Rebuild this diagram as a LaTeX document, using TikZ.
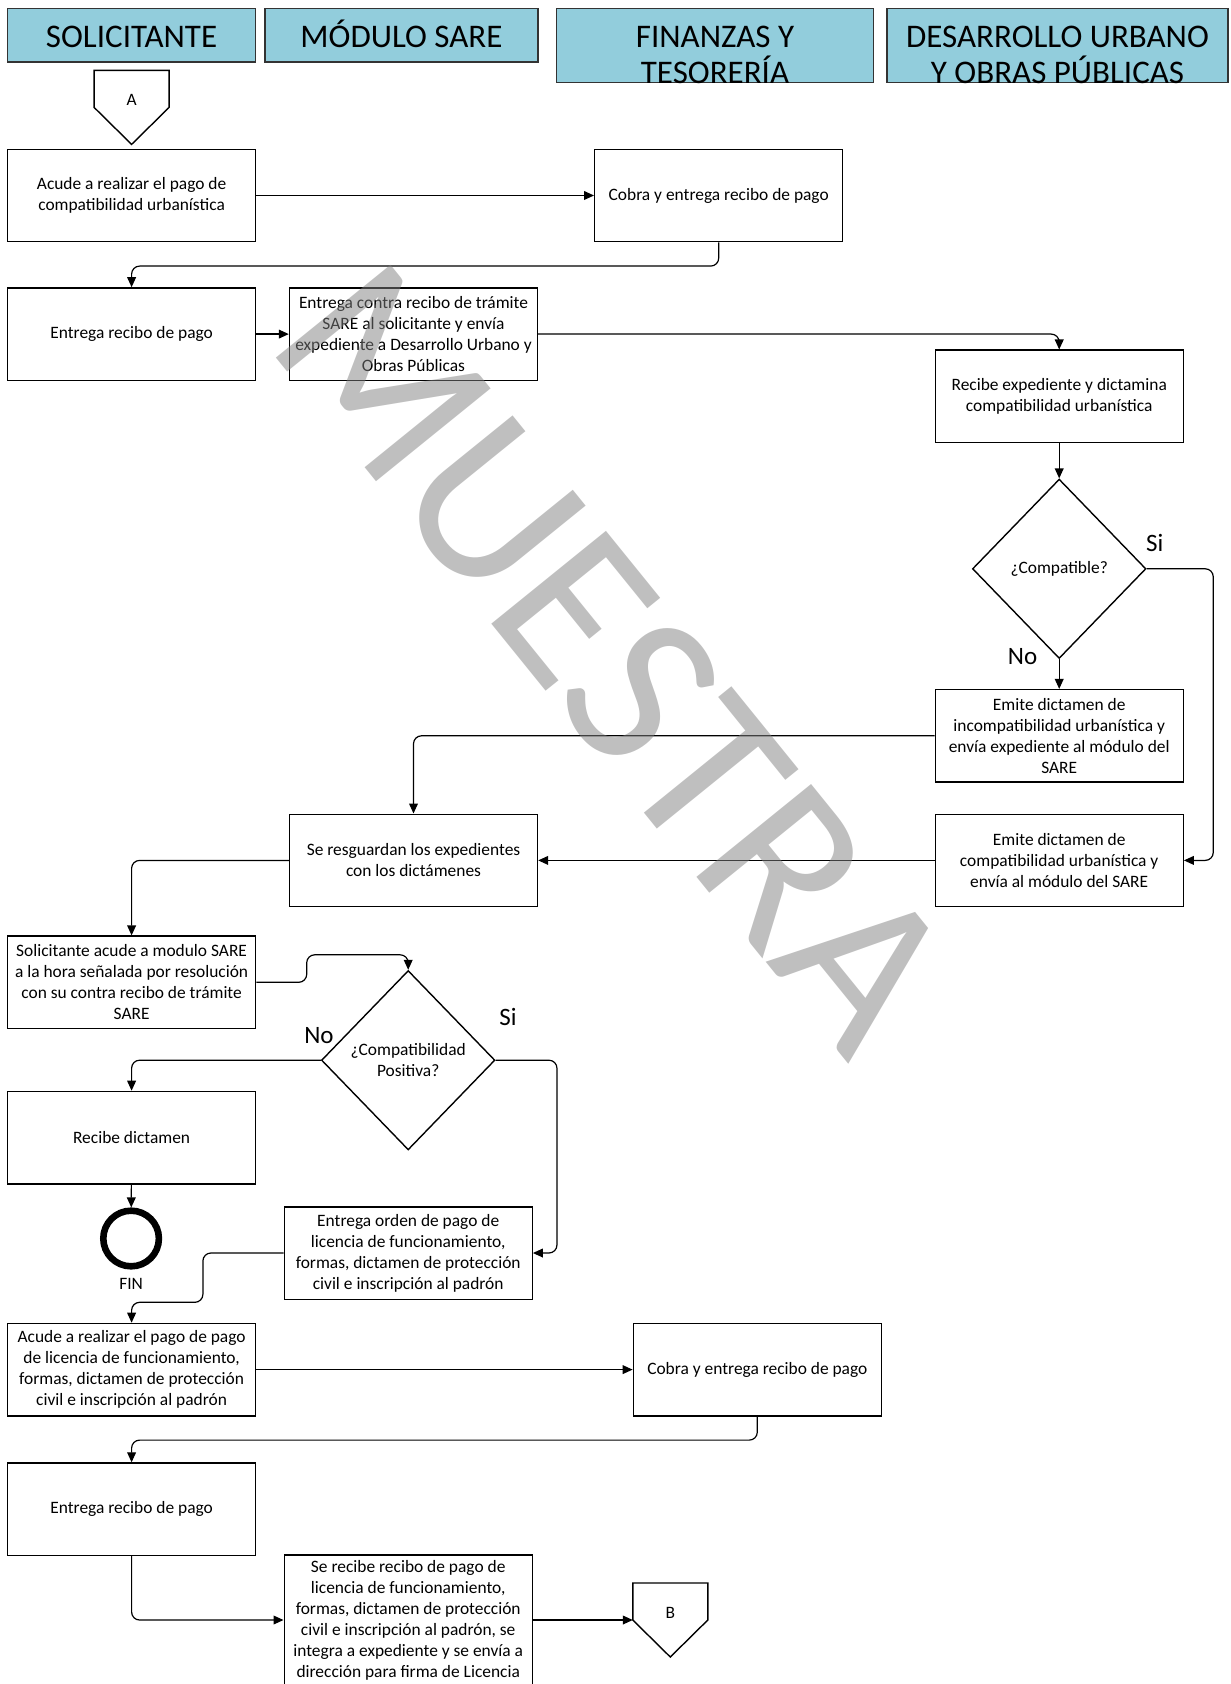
\documentclass[tikz,border=0pt]{standalone}
\usepackage{fontspec}
\setmainfont{Carlito}
\usepackage{tikz}
\usetikzlibrary{shapes.geometric}
\usetikzlibrary{arrows.meta}
\definecolor{lanecolor}{RGB}{146,205,220}
\tikzset{
    lane/.style = {rectangle, draw=black!80, fill=lanecolor, line width=0.7pt},
    lanetext/.style = {align=center, inner sep=0pt, font=\fontsize{16.5}{18.3}\selectfont},
    lanetextuna/.style = {lanetext, text height=10.6pt, text depth=0pt},
    paso/.style = {rectangle, draw=black, line width=0.7pt, align=center, minimum width=124pt, minimum height=46.2pt, inner sep=1pt, font=\fontsize{8.7}{10.5}\selectfont},
    decision/.style = {diamond, draw=black, line width=0.7pt, align=center, minimum width=86.75pt, minimum height=89.7pt, inner sep=0pt, font=\fontsize{8.7}{10.5}\selectfont},
    offpage/.style = {minimum width=37.1pt, minimum height=36.6pt, inner sep=0pt, font=\fontsize{8.7}{10.5}\selectfont},
    fin/.style = {circle, draw=black, line width=3.3pt, minimum size=27.8pt, inner sep=0pt},
}

\begin{document}
\begin{tikzpicture}[
	x=0.5pt, y=-0.5pt,
	font=\fontsize{8.7}{10.5}\selectfont
]
\tikzset{
    flecha/.style = {-{Triangle[length=5pt,width=4.4pt]}, line width=0.6pt, rounded corners=4pt},
    linea/.style = {line width=0.7pt},
    etiqueta/.style = {font=\fontsize{12.5}{14}\selectfont},
    marca/.style = {font=\fontsize{115}{115}\selectfont, text=black!50, text opacity=0.5, rotate=-51}
}
\useasboundingbox (0,0) rectangle (1230,1684);
\clip (0,0) rectangle (1230,1684);
% carriles
\node[lane, minimum width=124.1pt, minimum height=26.7pt] (carril1) at (131.6,35.3) {};
\node[lane, minimum width=136.5pt, minimum height=26.7pt] (carril2) at (401.5,35.3) {};
\node[lane, minimum width=158.5pt, minimum height=37pt] (carril3) at (715,45.65) {};
\node[lane, minimum width=170.5pt, minimum height=37pt] (carril4) at (1057.5,45.65) {};
\node[lanetextuna] (titulo1) at (131.6,36.5) {SOLICITANTE};
\node[lanetextuna] (titulo2) at (401.5,36.5) {MÓDULO SARE};
\node[lanetext] (titulo3) at (715,54.75) {FINANZAS Y\\TESORERÍA};
\node[lanetext] (titulo4) at (1057.5,54.75) {DESARROLLO URBANO\\Y OBRAS PÚBLICAS};
%
\node[offpage, label={[yshift=3.5pt]center:A}] at (131.6,107.4) (offA) {};
\draw[linea] (offA.north west) -- (offA.north east) -- (offA.east) -- (offA.south) -- (offA.west) -- cycle;
\node[paso] at (131.6,195.5) (acude1) {Acude a realizar el pago de\\compatibilidad urbanística};
\node[paso] at (718.7,195.5) (cobra1) {Cobra y entrega recibo de pago};
\node[paso] at (131.6,334.1) (entrega1) {Entrega recibo de pago};
\node[paso] at (413.5,334.1) (contra) {Entrega contra recibo de trámite\\SARE al solicitante y envía\\expediente a Desarrollo Urbano y\\Obras Públicas};
\node[paso] at (1059.2,396.4) (recibeexp) {Recibe expediente y dictamina\\compatibilidad urbanística};
\node[decision] at (1059.2,568.8) (dec1) {¿Compatible?};
\node[paso] at (1059.2,735.8) (emiteinc) {Emite dictamen de\\incompatibilidad urbanística y\\envía expediente al módulo del\\SARE};
\node[paso] at (1059.2,860.4) (emitecomp) {Emite dictamen de\\compatibilidad urbanística y\\envía al módulo del SARE};
\node[paso] at (413.5,860.4) (resguarda) {Se resguardan los expedientes\\con los dictámenes};
\node[paso] at (131.6,982.3) (solicita) {Solicitante acude a modulo SARE\\a la hora señalada por resolución\\con su contra recibo de trámite\\SARE};
\node[decision] at (408.2,1060.2) (dec2) {¿Compatibilidad\\Positiva?};
\node[paso] at (131.6,1137.6) (recibedict) {Recibe dictamen};
\node[fin, label={[label distance=1pt]below:FIN}] at (131.1,1238.5) (fin) {};
\node[paso] at (408.2,1253) (orden) {Entrega orden de pago de\\licencia de funcionamiento,\\formas, dictamen de protección\\civil e inscripción al padrón};
\node[paso] at (131.6,1369.6) (acude2) {Acude a realizar el pago de pago\\de licencia de funcionamiento,\\formas, dictamen de protección\\civil e inscripción al padrón};
\node[paso] at (757.3,1369.6) (cobra2) {Cobra y entrega recibo de pago};
\node[paso] at (131.6,1509.2) (entrega2) {Entrega recibo de pago};
\node[paso, minimum height=65pt] at (408.2,1620) (serecibe) {Se recibe recibo de pago de\\licencia de funcionamiento,\\formas, dictamen de protección\\civil e inscripción al padrón, se\\integra a expediente y se envía a\\dirección para firma de Licencia};
\node[offpage, label={[yshift=3.5pt]center:B}] at (670.3,1620) (offB) {};
\draw[linea] (offB.north west) -- (offB.north east) -- (offB.east) -- (offB.south) -- (offB.west) -- cycle;
%
\node[etiqueta] at (1154.8,542.5) (si1) {Si};
\node[etiqueta] at (1022.6,656.3) (no1) {No};
\node[etiqueta] at (319,1035.5) (no2) {No};
\node[etiqueta] at (508.1,1017.3) (si2) {Si};
%
\draw[flecha] (acude1) -- (cobra1);
\draw[flecha] (cobra1.south) -- ++(0,23.7) -| (entrega1.north);
\draw[flecha] (entrega1) -- (contra);
\draw[flecha] (contra.east) -| (recibeexp.north);
\draw[flecha] (recibeexp) -- (dec1);
\draw[flecha] (dec1.east) -- ++(66.6,0) |- (emitecomp.east);
\draw[flecha] (dec1.south) -- (emiteinc.north);
\draw[flecha] (emiteinc.west) -| (resguarda.north);
\draw[flecha] (emitecomp) -- (resguarda);
\draw[flecha] (resguarda.west) -| (solicita.north);
\draw[flecha] (solicita.east) -- ++(50.4,0) |- ([yshift=7.5pt]dec2.north) -- (dec2.north);
\draw[flecha] (dec2.west) -| (recibedict.north);
\draw[flecha] (recibedict) -- (fin);
\draw[flecha] (dec2.east) -- ++(61.3,0) |- (orden.east);
\draw[flecha] (orden.west) -- ++(-80.6,0) |- ([yshift=10.2pt]acude2.north) -- (acude2.north);
\draw[flecha] (acude2) -- (cobra2);
\draw[flecha] (cobra2.south) -- ++(0,23.6) -| (entrega2.north);
\draw[flecha] (entrega2.south) |- (serecibe.west);
\draw[flecha] (serecibe.east) -- (offB.west);
%
\node[marca] at (614,658) (marcaagua) {MUESTRA};
\end{tikzpicture}
\end{document}
